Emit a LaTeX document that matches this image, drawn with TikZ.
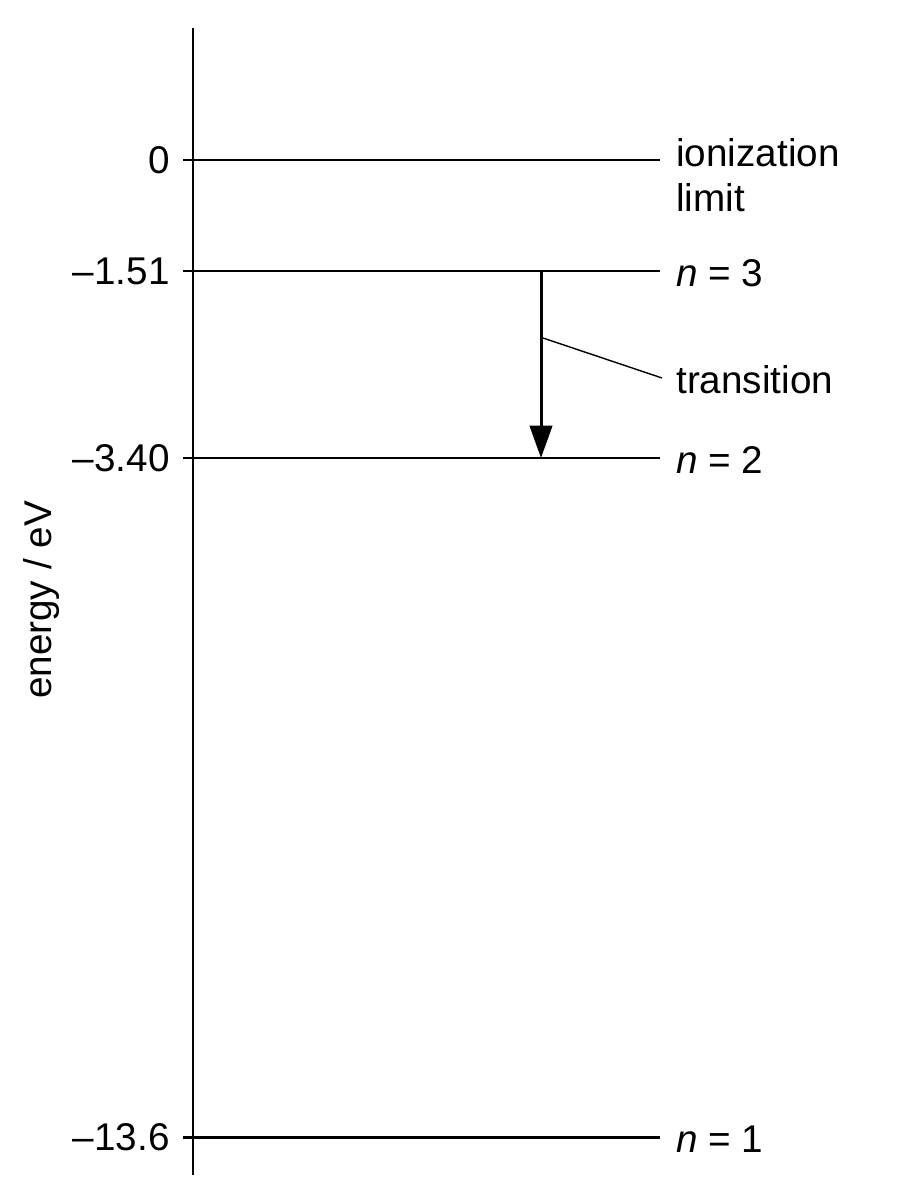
\documentclass[tikz,border=0pt]{standalone}
\usepackage{fontspec}
\setmainfont{Liberation Sans}
\usetikzlibrary{arrows.meta}
\begin{document}
\begin{tikzpicture}[x=0.02cm,y=-0.02cm,
  lvl/.style={line width=1.7pt},
  lab/.style={anchor=west,font=\fontsize{22}{26}\selectfont,inner sep=0pt},
  val/.style={anchor=east,font=\fontsize{22}{26}\selectfont,inner sep=0pt}]
\useasboundingbox (0,0) rectangle (896,1200);
\draw[lvl] (193,28) -- (193,1175);
\foreach \y/\v/\n in {160/0/a,271/{--1.51}/b,458/{--3.40}/c,1137/{--13.6}/d}{
  \coordinate (l\n) at (183,\y);
  \coordinate (r\n) at (660,\y);
  \draw[lvl] (l\n) -- (r\n);
  \node[val] (v\n) at (170,\y) {\v};
}
\node[lab,align=left] (ion) at (676,175) {ionization\\limit};
\node[lab] (n3) at (676,273) {\textit{n} = 3};
\node[lab] (n2) at (676,460) {\textit{n} = 2};
\node[lab] (n1) at (676,1139) {\textit{n} = 1};
\node[lab] (tr) at (676,380) {transition};
\coordinate (as) at (541,271);
\coordinate (ae) at (541,458);
\draw[lvl,-{Triangle[length=0.65cm,width=0.45cm]}] (as) -- (ae);
\coordinate (ls) at (543,338);
\coordinate (le) at (662,378);
\draw[line width=0.8pt] (ls) -- (le);
\node[rotate=90,font=\fontsize{22}{26}\selectfont] (ax) at (42,600) {energy / eV};
\end{tikzpicture}
\end{document}
